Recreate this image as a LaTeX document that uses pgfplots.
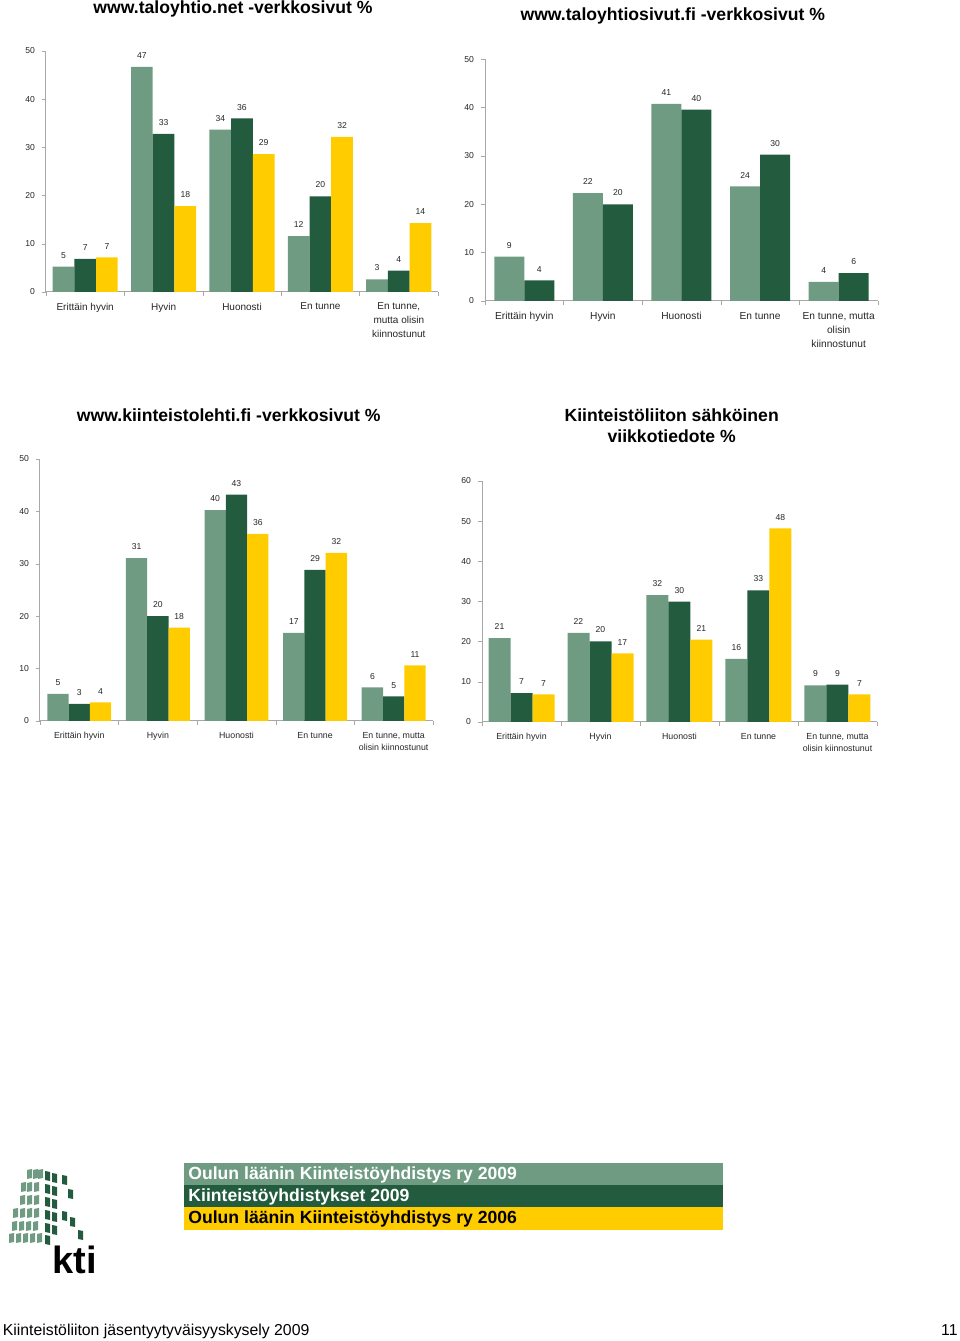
\documentclass[border=0pt]{standalone}
\usepackage{fontspec}
\setmainfont{Liberation Sans}
\usepackage{pgfplots}
\pgfplotsset{compat=1.18}

\definecolor{lgreen}{HTML}{6F9B83}
\definecolor{dgreen}{HTML}{235B3F}
\definecolor{kyellow}{HTML}{FFCC00}
\definecolor{axgray}{HTML}{A8A8A8}

\pgfplotsset{
  kti/.style={
    scale only axis, ybar=0pt, ymin=0, xmin=-0.5, xmax=4.5,
    axis x line*=bottom, axis y line*=left,
    axis line style={-, draw=axgray, line width=0.5pt},
    xtick={0,...,4}, minor xtick={-0.5,0.5,1.5,2.5,3.5,4.5},
    major x tick style={draw=none},
    minor x tick style={draw=axgray},
    ytick style={draw=axgray},
    tick align=outside, major tick length=2pt, minor tick length=2pt,
    ytick distance=10,
    yticklabel style={font=\fontsize{4.3}{5}\selectfont, text=black!85},
    xticklabel style={align=center, text=black!85},
    nodes near coords,
    nodes near coords style={font=\fontsize{4.3}{5}\selectfont, text=black!85, yshift=0.6pt},
    /pgf/number format/assume math mode=true,
    /pgf/number format/fixed, /pgf/number format/precision=0,
    clip=false,
  },
  sA/.style={fill=lgreen, draw=none},
  sB/.style={fill=dgreen, draw=none},
  sC/.style={fill=kyellow, draw=none},
}

\begin{document}
\begin{tikzpicture}
\path[use as bounding box] (0,0) rectangle (480pt,670.5pt);

% chart 1
\begin{axis}[kti, at={(23pt,524.5pt)}, anchor=south west,
  width=196pt, height=120.5pt, ymax=50, bar width=10.85pt,
  xticklabel style={font=\fontsize{5}{7}\selectfont},
  xticklabels={Erittäin hyvin, Hyvin, Huonosti, En tunne, {En tunne,\\mutta olisin\\kiinnostunut}}]
\addplot[sA] coordinates {(0,5.26) (1,46.7) (2,33.7) (3,11.6) (4,2.63)};
\addplot[sB] coordinates {(0,6.85) (1,32.8) (2,36.0) (3,19.85) (4,4.43)};
\addplot[sC] coordinates {(0,7.2) (1,17.8) (2,28.6) (3,32.2) (4,14.3)};
\end{axis}

% chart 2
\begin{axis}[kti, at={(242.5pt,520pt)}, anchor=south west,
  width=196.5pt, height=120.85pt, ymax=50, bar width=15pt,
  xticklabel style={font=\fontsize{5.1}{7}\selectfont},
  xticklabels={Erittäin hyvin, Hyvin, Huonosti, En tunne, {En tunne, mutta\\olisin\\kiinnostunut}}]
\addplot[sA] coordinates {(0,9.17) (1,22.3) (2,40.8) (3,23.7) (4,3.93)};
\addplot[sB] coordinates {(0,4.28) (1,20.0) (2,39.6) (3,30.3) (4,5.79)};
\end{axis}

% chart 3
\begin{axis}[kti, at={(20pt,310pt)}, anchor=south west,
  width=196.5pt, height=131pt, ymax=50, bar width=10.65pt,
  xticklabel style={font=\fontsize{4.4}{6}\selectfont},
  xticklabels={Erittäin hyvin, Hyvin, Huonosti, En tunne, {En tunne, mutta\\olisin kiinnostunut}}]
\addplot[sA] coordinates {(0,5.16) (1,31.1) (2,40.25) (3,16.8) (4,6.4)};
\addplot[sB] coordinates {(0,3.25) (1,20.0) (2,43.2) (3,28.85) (4,4.7)};
\addplot[sC] coordinates {(0,3.57) (1,17.8) (2,35.7) (3,32.1) (4,10.6)};
\end{axis}

% chart 4
\begin{axis}[kti, at={(241pt,309.5pt)}, anchor=south west,
  width=197.5pt, height=120.5pt, ymax=60, bar width=11pt,
  xticklabel style={font=\fontsize{4.4}{6}\selectfont},
  xticklabels={Erittäin hyvin, Hyvin, Huonosti, En tunne, {En tunne, mutta\\olisin kiinnostunut}}]
\addplot[sA] coordinates {(0,20.9) (1,22.2) (2,31.6) (3,15.7) (4,9.13)};
\addplot[sB] coordinates {(0,7.2) (1,20.1) (2,29.96) (3,32.8) (4,9.3)};
\addplot[sC] coordinates {(0,6.9) (1,17.1) (2,20.5) (3,48.2) (4,6.9)};
\end{axis}

\begin{scope}[x=0.5pt, y=-0.5pt, shift={(0,670.5pt)}]
  % titles
  \begin{scope}[every node/.style={font=\fontsize{8.8}{10}\selectfont\bfseries, inner sep=0pt, anchor=base}]
    \node at (233,13.5) {www.taloyhtio.net -verkkosivut \%};
    \node at (672.8,21) {www.taloyhtiosivut.fi -verkkosivut \%};
    \node at (228.7,421.5) {www.kiinteistolehti.fi -verkkosivut \%};
    \node at (671.7,421.5) {Kiinteistöliiton sähköinen};
    \node at (671.7,443) {viikkotiedote \%};
  \end{scope}

  % legend bands
  \fill[lgreen] (184,1163) rectangle (723,1185.5);
  \fill[dgreen] (184,1185.5) rectangle (723,1207.5);
  \fill[kyellow] (184,1207.5) rectangle (723,1230);
  \begin{scope}[every node/.style={font=\fontsize{8.8}{10}\selectfont\bfseries, inner sep=0pt, anchor=base west}]
    \node[text=white] at (188,1180) {Oulun läänin Kiinteistöyhdistys ry 2009};
    \node[text=white] at (188,1202) {Kiinteistöyhdistykset 2009};
    \node[text=black] at (188,1224) {Oulun läänin Kiinteistöyhdistys ry 2006};
  \end{scope}

  % logo
  \foreach \x/\y in {27/1170,33/1170,38/1170,21/1183,27/1183,34/1183,20/1196,27/1196,34/1196,
      13/1209,20/1209,27/1209,34/1209,12/1222,19/1222,26/1222,33/1222,
      9/1234,16/1234,23/1234,30/1234,37/1234}
    \fill[lgreen] (\x,\y) -- ++(5,-1) -- ++(0,9) -- ++(-5,1) -- cycle;
  \foreach \x/\y in {45/1171,45/1184,45/1197,45/1210,45/1223,45/1235,
      52/1173,52/1186,52/1199,52/1212,52/1225,
      62/1175,68/1189,62/1211,70/1217,78/1230}
    \fill[dgreen] (\x,\y) -- ++(5,1) -- ++(0,9) -- ++(-5,-1) -- cycle;
  \node[font=\fontsize{19}{19}\selectfont\bfseries, inner sep=0pt, anchor=base west] at (52,1273) {kti};

  % footer
  \node[font=\fontsize{7.9}{9}\selectfont, inner sep=0pt, anchor=base west] at (2.5,1336) {Kiinteistöliiton jäsentyytyväisyyskysely 2009};
  \node[font=\fontsize{7.9}{9}\selectfont, inner sep=0pt, anchor=base east] at (958,1336) {11};
\end{scope}
\end{tikzpicture}
\end{document}
